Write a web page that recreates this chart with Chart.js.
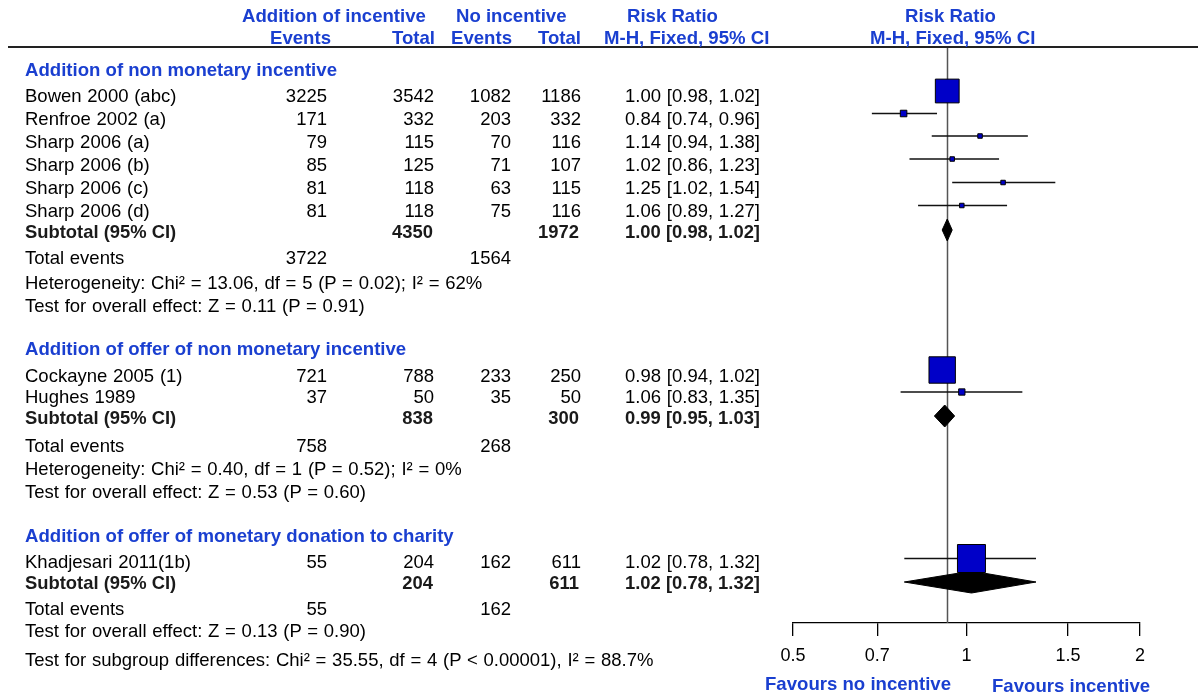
<!DOCTYPE html>
<html><head><meta charset="utf-8">
<script src="https://cdn.jsdelivr.net/npm/chart.js"></script>
<style>
html,body{margin:0;padding:0;background:#fff;}
#wrap{position:relative;width:1198px;height:694px;overflow:hidden;font-family:"Liberation Sans",Arial,Helvetica,sans-serif;}
canvas{position:absolute;left:0;top:0;}
.t{position:absolute;white-space:nowrap;line-height:20px;height:20px;font-size:18.5px;color:#000;word-spacing:0.6px;}
.b{font-weight:bold;font-size:18.4px;color:#1a1a1a;word-spacing:0;}
.blue{color:#1a3fd0;font-size:18.6px;}
.r{text-align:right;width:400px;}
#hline{position:absolute;left:8px;top:46px;width:1190px;height:2px;background:#222;}
</style></head><body>
<div id="wrap"><canvas id="c" width="1198" height="694"></canvas><div id="hline"></div></div>
<script>
// ---------------- DATA ----------------
const groupNames = ["Addition of non monetary incentive", "Addition of offer of non monetary incentive", "Addition of offer of monetary donation to charity"];
const studies = ["Bowen 2000 (abc)", "Renfroe 2002 (a)", "Sharp 2006 (a)", "Sharp 2006 (b)", "Sharp 2006 (c)", "Sharp 2006 (d)", "Cockayne 2005 (1)", "Hughes 1989", "Khadjesari 2011(1b)"];
const studyGroup = [0, 0, 0, 0, 0, 0, 1, 1, 2];
const eventsInc = [3225, 171, 79, 85, 81, 81, 721, 37, 55];
const totalInc  = [3542, 332, 115, 125, 118, 118, 788, 50, 204];
const eventsNo  = [1082, 203, 70, 71, 63, 75, 233, 35, 162];
const totalNo   = [1186, 332, 116, 107, 115, 116, 250, 50, 611];
const rr   = [1.00, 0.84, 1.14, 1.02, 1.25, 1.06, 0.98, 1.06, 1.02];
const rrLo = [0.98, 0.74, 0.94, 0.86, 1.02, 0.89, 0.94, 0.83, 0.78];
const rrHi = [1.02, 0.96, 1.38, 1.23, 1.54, 1.27, 1.02, 1.35, 1.32];
const subTotalInc = [4350, 838, 204];
const subTotalNo  = [1972, 300, 611];
const subRR   = [1.00, 0.99, 1.02];
const subLo   = [0.98, 0.95, 0.78];
const subHi   = [1.02, 1.03, 1.32];
const totEventsInc = [3722, 758, 55];
const totEventsNo  = [1564, 268, 162];
const heterogeneity = ["Heterogeneity: Chi\u00b2 = 13.06, df = 5 (P = 0.02); I\u00b2 = 62%", "Heterogeneity: Chi\u00b2 = 0.40, df = 1 (P = 0.52); I\u00b2 = 0%", null];
const overallEffect = ["Test for overall effect: Z = 0.11 (P = 0.91)", "Test for overall effect: Z = 0.53 (P = 0.60)", "Test for overall effect: Z = 0.13 (P = 0.90)"];
const subgroupTest = "Test for subgroup differences: Chi\u00b2 = 35.55, df = 4 (P < 0.00001), I\u00b2 = 88.7%";
const tickValues = [0.5, 0.7, 1, 1.5, 2];
const tickLabels = ["0.5", "0.7", "1", "1.5", "2"];

// ---------------- LAYOUT (positions / styles) ----------------
const FONT = '"Liberation Sans", Arial, Helvetica, sans-serif';
const nameX = 25;
const colRight = [327, 434, 511, 581, 760];
const studyRowY  = [91, 113.5, 136, 159, 182.5, 205.5, 370, 392, 558.5];
const studyTextY = [96, 119, 142, 165, 188, 211, 376, 397, 562];
const subRowY  = [230, 416, 582];
const subTextY = [232, 418, 583];
const groupHeadY = [70, 349, 536];
const totEvY = [258, 446, 609];
const hetY = [283, 469, null];
const overallY = [306, 492, 631];
const subgroupY = 660;
const groupAxis = ['xA', 'xA', 'x'];
const diamondHalf = 11;

// ---------------- TEXT TABLE ----------------
const wrap = document.getElementById('wrap');
function txt(s, x, y, opt) {
  opt = opt || {};
  const d = document.createElement('div');
  d.className = 't' + (opt.bold ? ' b' : '') + (opt.blue ? ' blue' : '') + (opt.right ? ' r' : '');
  d.textContent = s;
  d.style.top = (y - 10) + 'px';
  d.style.left = (opt.right ? x - 400 : x) + 'px';
  wrap.appendChild(d);
}
const fmt = v => v.toFixed(2);
const ciText = (a, l, h) => `${fmt(a)} [${fmt(l)}, ${fmt(h)}]`;

// column headers
txt("Addition of incentive", 242, 16, {bold:1, blue:1});
txt("No incentive", 456, 16, {bold:1, blue:1});
txt("Risk Ratio", 627, 16, {bold:1, blue:1});
txt("Risk Ratio", 905, 16, {bold:1, blue:1});
txt("Events", 270, 38, {bold:1, blue:1});
txt("Total", 435, 38, {bold:1, blue:1, right:1});
txt("Events", 512, 38, {bold:1, blue:1, right:1});
txt("Total", 581, 38, {bold:1, blue:1, right:1});
txt("M-H, Fixed, 95% CI", 604, 38, {bold:1, blue:1});
txt("M-H, Fixed, 95% CI", 870, 38, {bold:1, blue:1});

groupNames.forEach((g, k) => {
  txt(g, nameX, groupHeadY[k], {bold:1, blue:1});
  studies.forEach((s, i) => {
    if (studyGroup[i] !== k) return;
    const y = studyTextY[i];
    txt(s, nameX, y);
    txt(String(eventsInc[i]), colRight[0], y, {right:1});
    txt(String(totalInc[i]), colRight[1], y, {right:1});
    txt(String(eventsNo[i]), colRight[2], y, {right:1});
    txt(String(totalNo[i]), colRight[3], y, {right:1});
    txt(ciText(rr[i], rrLo[i], rrHi[i]), colRight[4], y, {right:1});
  });
  txt("Subtotal (95% CI)", nameX, subTextY[k], {bold:1});
  txt(String(subTotalInc[k]), colRight[1] - 1, subTextY[k], {bold:1, right:1});
  txt(String(subTotalNo[k]), colRight[3] - 2, subTextY[k], {bold:1, right:1});
  txt(ciText(subRR[k], subLo[k], subHi[k]), colRight[4], subTextY[k], {bold:1, right:1});
  txt("Total events", nameX, totEvY[k]);
  txt(String(totEventsInc[k]), colRight[0], totEvY[k], {right:1});
  txt(String(totEventsNo[k]), colRight[2], totEvY[k], {right:1});
  if (heterogeneity[k]) txt(heterogeneity[k], nameX, hetY[k]);
  txt(overallEffect[k], nameX, overallY[k]);
});
txt(subgroupTest, nameX, subgroupY);
txt("Favours no incentive", 765, 684, {bold:1, blue:1});
txt("Favours incentive", 992, 686, {bold:1, blue:1});

// ---------------- MARKER SIZES from M-H weights ----------------
const mhW = studies.map((s, i) => eventsNo[i] * totalInc[i] / (totalInc[i] + totalNo[i]));
const groupW = groupNames.map((g, k) => mhW.reduce((a, w, i) => a + (studyGroup[i] === k ? w : 0), 0));
const pctW = mhW.map((w, i) => 100 * w / groupW[studyGroup[i]]);
const sideOf = i => Math.max(4.5, 28 * Math.pow(pctW[i] / 100, 0.62));

// ---------------- DATASETS ----------------
const datasets = [];
['xA', 'x'].forEach(ax => {
  const idx = studies.map((s, i) => i).filter(i => groupAxis[studyGroup[i]] === ax);
  datasets.push({
    type: 'scatter', xAxisID: ax, yAxisID: 'y', order: 0,
    data: idx.map(i => ({x: rr[i], y: studyRowY[i]})),
    pointStyle: 'rect', pointRadius: idx.map(i => sideOf(i) / Math.SQRT2),
    pointHoverRadius: idx.map(i => sideOf(i) / Math.SQRT2),
    backgroundColor: '#0000c8', borderColor: '#000', borderWidth: 1, showLine: false
  });
});
studies.forEach((s, i) => {
  const y = studyRowY[i];
  datasets.push({
    type: 'scatter', xAxisID: groupAxis[studyGroup[i]], yAxisID: 'y', order: 2, showLine: true,
    data: [{x: rrLo[i], y: y}, {x: rrHi[i], y: y}],
    borderColor: '#111', borderWidth: 1.5, pointRadius: 0, fill: false
  });
});
groupNames.forEach((g, k) => {
  const y = subRowY[k];
  datasets.push({
    type: 'scatter', xAxisID: groupAxis[k], yAxisID: 'y', order: 1, showLine: true, fill: 'shape',
    data: [{x: subLo[k], y: y}, {x: subRR[k], y: y - diamondHalf}, {x: subHi[k], y: y}, {x: subRR[k], y: y + diamondHalf}, {x: subLo[k], y: y}],
    borderColor: '#000', backgroundColor: '#000', borderWidth: 1, pointRadius: 0, tension: 0
  });
});

const nullLine = {
  id: 'nullLine',
  beforeDatasetsDraw(chart) {
    const {ctx, chartArea, scales} = chart;
    const x = Math.round(scales.xA.getPixelForValue(1)) + 0.5;
    ctx.save();
    ctx.strokeStyle = '#555';
    ctx.lineWidth = 1.5;
    ctx.beginPath();
    ctx.moveTo(x, chartArea.top);
    ctx.lineTo(x, chartArea.bottom);
    ctx.stroke();
    ctx.restore();
  }
};

new Chart(document.getElementById('c'), {
  type: 'scatter',
  data: {datasets},
  plugins: [nullLine],
  options: {
    responsive: false, animation: false, events: [],
    layout: {padding: {left: 793, right: 58, top: 47, bottom: 0}},
    plugins: {legend: {display: false}, tooltip: {enabled: false}},
    scales: {
      x: {
        type: 'logarithmic', position: 'bottom', min: 0.5, max: 2,
        afterBuildTicks: s => { s.ticks = tickValues.map(v => ({value: v})); },
        afterFit: s => { s.height = 71; },
        ticks: {
          callback: (v) => tickLabels[tickValues.indexOf(v)] ?? String(v),
          color: '#000', font: {family: FONT, size: 18}, padding: 9, maxRotation: 0, autoSkip: false
        },
        grid: {display: true, drawOnChartArea: false, drawTicks: true, tickLength: 13, color: '#000', lineWidth: 1.3},
        border: {display: true, color: '#000', width: 1.3}
      },
      xA: {type: 'logarithmic', position: 'bottom', display: false, min: 0.54, max: 2.16},
      y: {type: 'linear', display: false, min: 47, max: 623, reverse: true}
    }
  }
});
</script>
</body></html>
